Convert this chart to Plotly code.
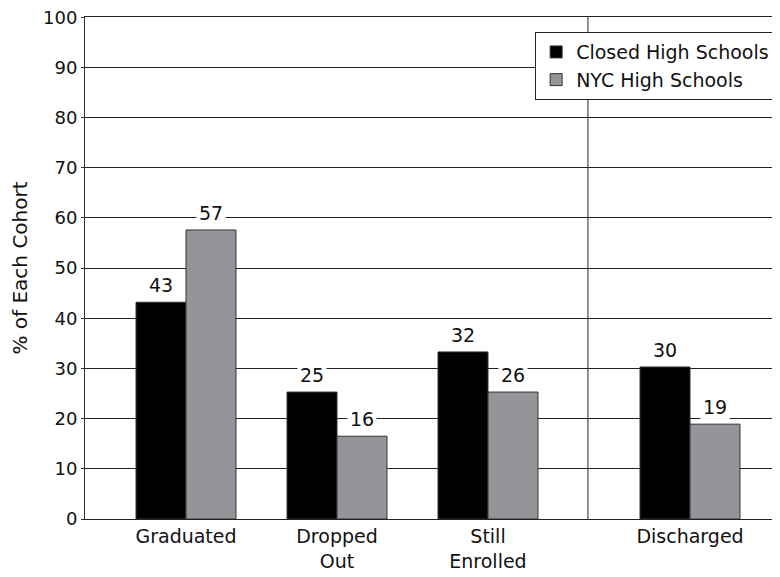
import plotly.graph_objects as go

categories = ["Graduated", "Dropped<br>Out", "Still<br>Enrolled", "Discharged"]
x_pos = [0, 1, 2, 3.338]
closed_vals = [43.2, 25.3, 33.3, 30.3]
nyc_vals = [57.6, 16.5, 25.3, 18.9]
closed_labels = ["43", "25", "32", "30"]
nyc_labels = ["57", "16", "26", "19"]
y_ticks = list(range(0, 101, 10))

FONT = "DejaVu Sans"
BW = 0.331

fig = go.Figure()
fig.add_trace(go.Bar(x=x_pos, y=closed_vals, name="Closed High Schools",
                     width=BW, offset=-BW,
                     marker=dict(color="#000000", line=dict(color="#333333", width=1))))
fig.add_trace(go.Bar(x=x_pos, y=nyc_vals, name="NYC High Schools",
                     width=BW, offset=0,
                     marker=dict(color="#939598", line=dict(color="#333333", width=1))))

ann = []
for xp, v, t in zip(x_pos, closed_vals, closed_labels):
    ann.append(dict(x=xp - BW / 2, y=v, text=t, showarrow=False, yanchor="bottom",
                    yshift=3, bgcolor="white", font=dict(size=19, color="#111"), borderpad=2))
for xp, v, t in zip(x_pos, nyc_vals, nyc_labels):
    ann.append(dict(x=xp + BW / 2, y=v, text=t, showarrow=False, yanchor="bottom",
                    yshift=3, bgcolor="white", font=dict(size=19, color="#111"), borderpad=2))

fig.add_shape(type="line", xref="x", yref="paper", x0=2.662, x1=2.662, y0=0, y1=1,
              line=dict(color="#222222", width=1))

# page body has an 8px margin; figure is sized so the plot lands where the reference has it
fig.update_layout(
    width=772, height=569,
    margin=dict(l=77, r=0, t=9, b=58, autoexpand=False),
    paper_bgcolor="white", plot_bgcolor="white",
    font=dict(family=FONT, size=19, color="#111111"),
    barmode="overlay",
    showlegend=True,
    legend=dict(x=0.993, y=0.97, xanchor="right", yanchor="top",
                bgcolor="white", bordercolor="#222222", borderwidth=1,
                font=dict(size=19), tracegroupgap=0, itemwidth=30),
    annotations=ann,
    xaxis=dict(range=[-0.669, 3.934], tickmode="array", tickvals=x_pos,
               ticktext=categories, showgrid=False, zeroline=False,
               showline=True, mirror=True, linecolor="#222222", linewidth=1, ticks="",
               tickfont=dict(size=19), automargin=False),
    yaxis=dict(range=[0, 100.05], tickmode="array", tickvals=y_ticks,
               showgrid=True, gridcolor="#222222", gridwidth=1,
               zeroline=False, showline=True, linecolor="#333333", linewidth=1,
               ticks="outside", ticklen=3, tickcolor="#333333",
               ticklabeloverflow="allow",
               title=dict(text="% of Each Cohort", font=dict(size=20), standoff=20),
               tickfont=dict(size=18), automargin=False),
)

fig.write_html("out.html")
